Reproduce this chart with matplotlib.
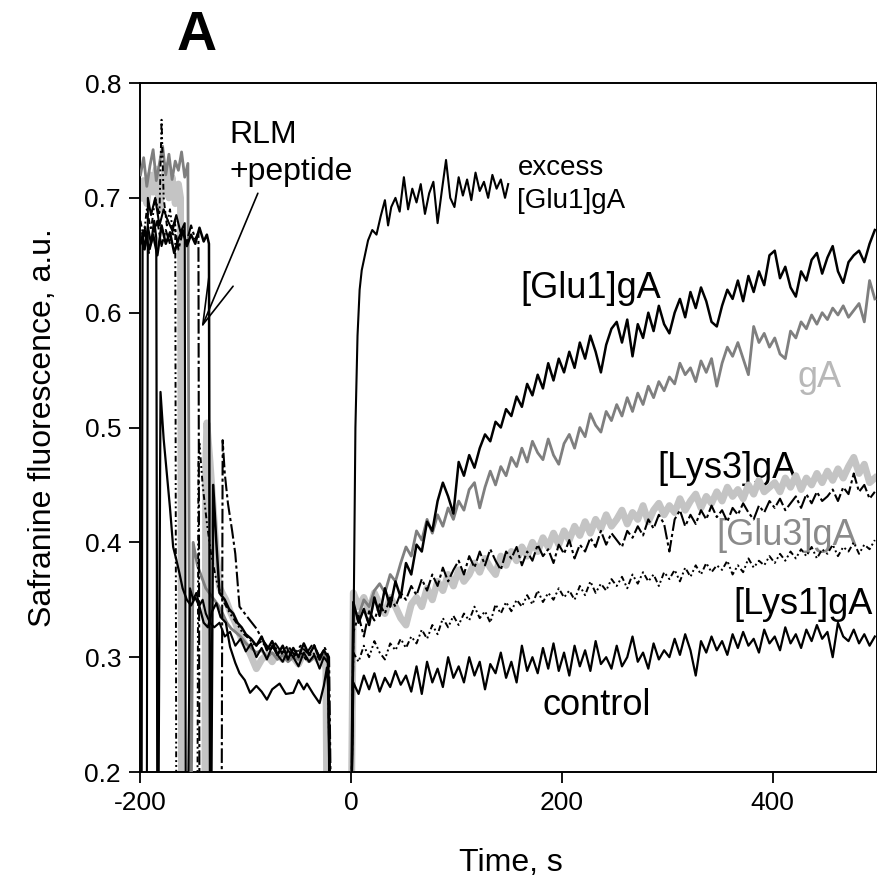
import numpy as np
import matplotlib
matplotlib.use('Agg')
import matplotlib.pyplot as plt

plt.rcParams['font.family'] = ['Liberation Sans', 'DejaVu Sans']
plt.rcParams['axes.unicode_minus'] = False

# ---- time grid after the second addition (s) ----
t_post = np.arange(2, 500, 5)

# ---- before t = 0 : baseline, addition of RLM + peptide, decay, gap ----
pre_t_control = [-199, -198, -196, -193, -190, -187, -185, -184, -183, -181, -178, -175, -172, -169, -166, -163,
                 -160, -156, -152, -148, -144, -140, -136, -132, -128, -124, -119, -115, -110, -106, -101, -96,
                 -90, -85, -80, -75, -68, -62, -55, -50, -45, -42, -36, -30, -26, -23, -21, -20, 0]
pre_v_control = [0.15, 0.67, 0.655, 0.675, 0.66, 0.68, 0.665, 0.15, 0.15, 0.531, 0.49, 0.46, 0.43, 0.396, 0.385,
                 0.373, 0.36, 0.35, 0.345, 0.352, 0.344, 0.33, 0.326, 0.34, 0.347, 0.335, 0.33, 0.309, 0.295, 0.286,
                 0.28, 0.269, 0.275, 0.27, 0.263, 0.272, 0.277, 0.268, 0.269, 0.28, 0.272, 0.277, 0.268, 0.26, 0.275,
                 0.291, 0.26, 0.15, 0.15]

pre_t_excess = [-194, -193, -190, -186, -182, -178, -174, -170, -166, -162, -158, -157, -155, -153, -150, -147,
                -144, -141, -138, -134, -130, -125, -120, -115, -110, -105, -100, -95, -90, -85, -80, -75, -70,
                -65, -60, -55, -50, -45, -40, -35, -30, -26, -22, -20]
pre_v_excess = [0.15, 0.70, 0.685, 0.70, 0.676, 0.69, 0.68, 0.672, 0.685, 0.67, 0.678, 0.15, 0.15, 0.36, 0.35,
                0.356, 0.345, 0.35, 0.338, 0.33, 0.326, 0.33, 0.318, 0.322, 0.31, 0.316, 0.305, 0.312, 0.30, 0.308,
                0.298, 0.31, 0.302, 0.296, 0.306, 0.30, 0.292, 0.304, 0.296, 0.302, 0.29, 0.30, 0.295, 0.15]

pre_t_glu1 = [-200, -196, -192, -188, -184, -180, -176, -172, -168, -164, -160, -156, -152, -148, -144, -140,
              -137, -135, -134, -133, -131, -128, -125, -120, -116, -112, -108, -104, -100, -95, -90, -85, -80,
              -75, -70, -65, -60, -55, -50, -45, -40, -35, -30, -26, -22, -20, 0]
pre_v_glu1 = [0.66, 0.672, 0.655, 0.668, 0.65, 0.676, 0.66, 0.67, 0.652, 0.664, 0.672, 0.658, 0.668, 0.66, 0.674,
              0.662, 0.668, 0.66, 0.15, 0.15, 0.45, 0.40, 0.356, 0.35, 0.342, 0.338, 0.33, 0.326, 0.32, 0.316,
              0.31, 0.318, 0.306, 0.314, 0.302, 0.31, 0.298, 0.308, 0.30, 0.312, 0.302, 0.31, 0.298, 0.306, 0.30,
              0.15, 0.15]

pre_t_ga = [-200, -197, -194, -191, -188, -185, -182, -179, -176, -173, -170, -167, -164, -161, -158, -155, -153,
            -152, -150, -146, -142, -138, -134, -130, -126, -122, -118, -114, -110, -105, -100, -95, -90, -85, -80,
            -75, -70, -65, -60, -55, -50, -45, -40, -35, -30, -26, -22, -20, 0]
pre_v_ga = [0.72, 0.735, 0.71, 0.728, 0.742, 0.715, 0.73, 0.745, 0.72, 0.738, 0.716, 0.732, 0.724, 0.74, 0.718,
            0.73, 0.15, 0.15, 0.40, 0.38, 0.37, 0.36, 0.355, 0.35, 0.345, 0.338, 0.33, 0.325, 0.322, 0.318, 0.312,
            0.308, 0.304, 0.306, 0.30, 0.304, 0.298, 0.302, 0.296, 0.30, 0.298, 0.302, 0.296, 0.30, 0.298, 0.302,
            0.296, 0.15, 0.15]

pre_t_glu3 = [-200, -197, -194, -191, -188, -185, -182, -179, -176, -173, -170, -167, -164, -162, -161, -139,
              -138, -137, -134, -131, -128, -125, -122, -119, -115, -110, -105, -100, -96, -90, -85, -80, -75, -70,
              -65, -60, -55, -50, -45, -40, -35, -30, -26, -24, -23, 0]
pre_v_glu3 = [0.70, 0.715, 0.695, 0.72, 0.705, 0.725, 0.69, 0.71, 0.728, 0.70, 0.718, 0.695, 0.712, 0.70, 0.15,
              0.15, 0.47, 0.504, 0.47, 0.43, 0.39, 0.361, 0.355, 0.35, 0.34, 0.33, 0.318, 0.31, 0.303, 0.29, 0.298,
              0.302, 0.296, 0.304, 0.298, 0.306, 0.30, 0.294, 0.304, 0.298, 0.302, 0.296, 0.30, 0.29, 0.15, 0.15]

pre_t_lys1 = [-200, -197, -194, -190, -186, -182, -180, -178, -175, -172, -169, -167, -166, -146, -145, -144,
              -141, -137, -133, -128, -122, -115, -109, -103, -97, -91, -85, -79, -73, -67, -61, -55, -49, -43,
              -37, -31, -26, -22, -20, 0]
pre_v_lys1 = [0.68, 0.665, 0.69, 0.672, 0.70, 0.685, 0.768, 0.70, 0.676, 0.69, 0.668, 0.68, 0.15, 0.15, 0.47,
              0.486, 0.45, 0.417, 0.39, 0.367, 0.35, 0.338, 0.33, 0.321, 0.316, 0.31, 0.314, 0.306, 0.31, 0.302,
              0.308, 0.30, 0.306, 0.298, 0.304, 0.30, 0.306, 0.298, 0.15, 0.15]

pre_t_lys3 = [-200, -196, -192, -188, -184, -180, -176, -172, -168, -164, -160, -156, -152, -148, -145, -144,
              -123, -122, -120, -117, -113, -110, -106, -101, -96, -90, -84, -77, -72, -66, -60, -54, -48, -42,
              -36, -30, -25, -21, -19, 0]
pre_v_lys3 = [0.66, 0.675, 0.652, 0.668, 0.68, 0.658, 0.672, 0.66, 0.678, 0.655, 0.67, 0.662, 0.676, 0.664, 0.67,
              0.15, 0.15, 0.489, 0.46, 0.434, 0.41, 0.39, 0.344, 0.338, 0.332, 0.325, 0.315, 0.306, 0.312, 0.304,
              0.31, 0.302, 0.31, 0.304, 0.312, 0.30, 0.308, 0.30, 0.15, 0.15]

# ---- after t = 0 ----
post_t_excess = [0, 2, 4, 6, 8, 10, 13, 16, 20, 24, 28, 32, 35, 38, 42, 46, 50, 54, 58, 62, 66, 70, 74, 78, 82,
                 86, 90, 94, 98, 102, 106, 110, 114, 118, 122, 126, 130, 134, 138, 142, 146, 149]
post_v_excess = [0.15, 0.30, 0.50, 0.58, 0.62, 0.637, 0.650, 0.663, 0.672, 0.668, 0.684, 0.698, 0.676, 0.692,
                 0.700, 0.688, 0.718, 0.690, 0.708, 0.696, 0.712, 0.686, 0.704, 0.714, 0.678, 0.706, 0.733, 0.700,
                 0.692, 0.718, 0.702, 0.716, 0.698, 0.722, 0.706, 0.714, 0.700, 0.720, 0.708, 0.716, 0.700, 0.712]

post_glu1 = [0.348, 0.330, 0.342, 0.328, 0.352, 0.336, 0.360, 0.344, 0.366, 0.352,
             0.382, 0.372, 0.398, 0.392, 0.418, 0.410, 0.436, 0.452, 0.440, 0.425,
             0.470, 0.458, 0.476, 0.465, 0.482, 0.494, 0.488, 0.505, 0.500, 0.516,
             0.510, 0.527, 0.518, 0.538, 0.528, 0.546, 0.534, 0.556, 0.541, 0.560,
             0.548, 0.566, 0.552, 0.574, 0.560, 0.580, 0.566, 0.548, 0.572, 0.586,
             0.592, 0.574, 0.594, 0.562, 0.590, 0.578, 0.600, 0.584, 0.606, 0.590,
             0.582, 0.600, 0.612, 0.596, 0.618, 0.604, 0.622, 0.610, 0.592, 0.588,
             0.606, 0.620, 0.612, 0.628, 0.610, 0.632, 0.618, 0.636, 0.624, 0.650,
             0.654, 0.630, 0.640, 0.622, 0.614, 0.636, 0.628, 0.646, 0.652, 0.634,
             0.648, 0.658, 0.636, 0.626, 0.644, 0.650, 0.654, 0.644, 0.660, 0.672]

post_ga = [0.342, 0.336, 0.350, 0.344, 0.358, 0.364, 0.356, 0.372, 0.366, 0.382,
           0.396, 0.388, 0.410, 0.402, 0.420, 0.408, 0.424, 0.414, 0.430, 0.420,
           0.436, 0.428, 0.446, 0.452, 0.430, 0.448, 0.462, 0.450, 0.466, 0.458,
           0.474, 0.466, 0.482, 0.470, 0.488, 0.478, 0.472, 0.490, 0.476, 0.468,
           0.486, 0.494, 0.482, 0.500, 0.492, 0.512, 0.502, 0.496, 0.514, 0.506,
           0.520, 0.510, 0.526, 0.514, 0.530, 0.520, 0.536, 0.526, 0.540, 0.532,
           0.544, 0.538, 0.556, 0.546, 0.552, 0.540, 0.558, 0.548, 0.560, 0.536,
           0.556, 0.570, 0.562, 0.574, 0.560, 0.546, 0.588, 0.574, 0.582, 0.570,
           0.578, 0.564, 0.560, 0.584, 0.578, 0.592, 0.586, 0.598, 0.590, 0.600,
           0.594, 0.604, 0.598, 0.606, 0.596, 0.602, 0.608, 0.592, 0.628, 0.612]

post_glu3 = [0.356, 0.344, 0.352, 0.340, 0.356, 0.346, 0.338, 0.352, 0.344, 0.334,
             0.328, 0.346, 0.352, 0.344, 0.360, 0.350, 0.366, 0.358, 0.372, 0.362,
             0.376, 0.366, 0.372, 0.382, 0.374, 0.386, 0.378, 0.372, 0.388, 0.380,
             0.392, 0.384, 0.396, 0.388, 0.400, 0.392, 0.404, 0.396, 0.408, 0.398,
             0.410, 0.402, 0.414, 0.406, 0.418, 0.408, 0.420, 0.412, 0.424, 0.414,
             0.420, 0.428, 0.416, 0.426, 0.420, 0.432, 0.418, 0.428, 0.434, 0.424,
             0.432, 0.426, 0.438, 0.428, 0.436, 0.442, 0.430, 0.440, 0.434, 0.444,
             0.436, 0.448, 0.440, 0.446, 0.438, 0.450, 0.442, 0.454, 0.444, 0.448,
             0.452, 0.444, 0.456, 0.448, 0.458, 0.446, 0.456, 0.450, 0.460, 0.452,
             0.462, 0.454, 0.464, 0.456, 0.466, 0.474, 0.460, 0.468, 0.452, 0.456]

post_lys3 = [0.322, 0.336, 0.318, 0.340, 0.332, 0.346, 0.338, 0.352, 0.344, 0.356,
             0.350, 0.362, 0.354, 0.368, 0.358, 0.372, 0.362, 0.378, 0.366, 0.376,
             0.384, 0.372, 0.388, 0.378, 0.392, 0.380, 0.394, 0.384, 0.376, 0.392,
             0.386, 0.396, 0.380, 0.392, 0.384, 0.398, 0.388, 0.394, 0.382, 0.398,
             0.390, 0.402, 0.386, 0.398, 0.392, 0.404, 0.396, 0.410, 0.398, 0.408,
             0.402, 0.396, 0.410, 0.404, 0.414, 0.406, 0.420, 0.412, 0.424, 0.416,
             0.392, 0.420, 0.428, 0.414, 0.424, 0.416, 0.428, 0.420, 0.432, 0.422,
             0.428, 0.418, 0.430, 0.424, 0.434, 0.426, 0.420, 0.432, 0.426, 0.436,
             0.430, 0.438, 0.428, 0.434, 0.440, 0.430, 0.442, 0.434, 0.444, 0.436,
             0.440, 0.446, 0.436, 0.448, 0.442, 0.460, 0.444, 0.450, 0.438, 0.444]

post_lys1 = [0.304, 0.296, 0.310, 0.300, 0.314, 0.304, 0.298, 0.312, 0.306, 0.316,
             0.308, 0.318, 0.312, 0.324, 0.316, 0.328, 0.320, 0.334, 0.326, 0.336,
             0.328, 0.338, 0.332, 0.344, 0.334, 0.340, 0.330, 0.346, 0.338, 0.348,
             0.340, 0.350, 0.344, 0.354, 0.346, 0.358, 0.348, 0.356, 0.350, 0.360,
             0.352, 0.358, 0.350, 0.362, 0.354, 0.366, 0.356, 0.364, 0.358, 0.368,
             0.362, 0.370, 0.360, 0.372, 0.364, 0.374, 0.366, 0.372, 0.362, 0.374,
             0.368, 0.376, 0.366, 0.378, 0.370, 0.380, 0.372, 0.382, 0.374, 0.380,
             0.376, 0.384, 0.372, 0.380, 0.374, 0.386, 0.378, 0.384, 0.380, 0.388,
             0.382, 0.390, 0.384, 0.392, 0.386, 0.394, 0.388, 0.396, 0.386, 0.394,
             0.390, 0.398, 0.388, 0.396, 0.392, 0.400, 0.390, 0.398, 0.394, 0.402]

post_control = [0.278, 0.268, 0.284, 0.272, 0.286, 0.270, 0.282, 0.274, 0.288, 0.276,
                0.284, 0.270, 0.292, 0.268, 0.296, 0.278, 0.290, 0.274, 0.300, 0.282,
                0.292, 0.278, 0.300, 0.284, 0.296, 0.272, 0.294, 0.286, 0.304, 0.282,
                0.296, 0.278, 0.310, 0.288, 0.300, 0.286, 0.308, 0.290, 0.312, 0.288,
                0.304, 0.284, 0.310, 0.292, 0.306, 0.288, 0.314, 0.294, 0.300, 0.290,
                0.310, 0.292, 0.300, 0.318, 0.296, 0.304, 0.290, 0.312, 0.298, 0.306,
                0.300, 0.316, 0.302, 0.320, 0.306, 0.284, 0.314, 0.304, 0.318, 0.306,
                0.314, 0.302, 0.320, 0.308, 0.322, 0.310, 0.316, 0.304, 0.324, 0.312,
                0.318, 0.306, 0.326, 0.312, 0.320, 0.308, 0.324, 0.314, 0.328, 0.316,
                0.322, 0.300, 0.330, 0.318, 0.314, 0.324, 0.312, 0.320, 0.310, 0.318]


def join(pre_t, pre_v, post_t, post_v):
    return np.concatenate([pre_t, post_t]), np.concatenate([pre_v, post_v])


fig = plt.figure(figsize=(8.78, 8.89), dpi=100)
ax = fig.add_axes([0.1600, 0.1316, 0.8394, 0.7750])

# thick light grey trace first, the rest on top
t, v = join(pre_t_glu3, pre_v_glu3, t_post, post_glu3)
ax.plot(t, v, color='#c4c4c4', lw=5, solid_joinstyle='round', zorder=2)

t, v = join(pre_t_ga, pre_v_ga, t_post, post_ga)
ax.plot(t, v, color='#7f7f7f', lw=2.0, zorder=3)

t, v = join(pre_t_lys1, pre_v_lys1, t_post, post_lys1)
ax.plot(t, v, color='black', lw=1.4, ls=(0, (3, 1.5, 1, 1.5, 1, 1.5)), zorder=4)

t, v = join(pre_t_lys3, pre_v_lys3, t_post, post_lys3)
ax.plot(t, v, color='black', lw=1.5, ls=(0, (7, 1.5, 1.5, 1.5)), zorder=4)

t, v = join(pre_t_control, pre_v_control, t_post, post_control)
ax.plot(t, v, color='black', lw=1.6, zorder=5)

t, v = join(pre_t_glu1, pre_v_glu1, t_post, post_glu1)
ax.plot(t, v, color='black', lw=1.8, zorder=5)

t, v = join(pre_t_excess, pre_v_excess, post_t_excess, post_v_excess)
ax.plot(t, v, color='black', lw=1.5, zorder=5)

ax.set_xlim(-200, 499.5)
ax.set_ylim(0.2, 0.8)
ax.set_xticks([-200, 0, 200, 400])
ax.set_yticks([0.2, 0.3, 0.4, 0.5, 0.6, 0.7, 0.8])
ax.set_yticklabels(['0.2', '0.3', '0.4', '0.5', '0.6', '0.7', '0.8'])
ax.tick_params(direction='out', length=8, width=1.3, labelsize=19, pad=6)
for s in ax.spines.values():
    s.set_linewidth(1.4)

ax.set_ylabel('Safranine fluorescence, a.u.', fontsize=23)
ax.yaxis.set_label_coords(-0.112, 0.5)
fig.text(0.582, 0.020, 'Time, s', fontsize=23, ha='center', va='baseline')
fig.text(0.2244, 0.9438, 'A', fontsize=40, fontweight='bold', ha='center', va='baseline')

# curve labels
ax.text(-115.3, 0.7477, 'RLM', fontsize=23, va='baseline', zorder=1)
ax.text(-115.3, 0.7155, '+peptide', fontsize=23, va='baseline', zorder=1)
ax.annotate('', xy=(-142, 0.587), xytext=(-88.6, 0.704),
            arrowprops=dict(arrowstyle='->, head_length=3.4, head_width=0.94', color='black', lw=1.2,
                            mutation_scale=10, shrinkA=0, shrinkB=0))
ax.text(157.8, 0.7199, 'excess', fontsize=20, va='baseline', zorder=1)
ax.text(157.8, 0.6911, '[Glu1]gA', fontsize=20, va='baseline', zorder=1)
ax.text(160.6, 0.6127, '[Glu1]gA', fontsize=26, va='baseline', zorder=1)
ax.text(423.4, 0.5352, 'gA', fontsize=26, color='#b8b8b8', va='baseline', zorder=1)
ax.text(291.0, 0.4560, '[Lys3]gA', fontsize=26, va='baseline', zorder=1)
ax.text(346.5, 0.3976, '[Glu3]gA', fontsize=26, color='#8a8a8a', va='baseline', zorder=1)
ax.text(362.7, 0.3375, '[Lys1]gA', fontsize=26, va='baseline', zorder=1)
ax.text(181.5, 0.2495, 'control', fontsize=26, va='baseline', zorder=1)

fig.savefig('out.png', dpi=100)
